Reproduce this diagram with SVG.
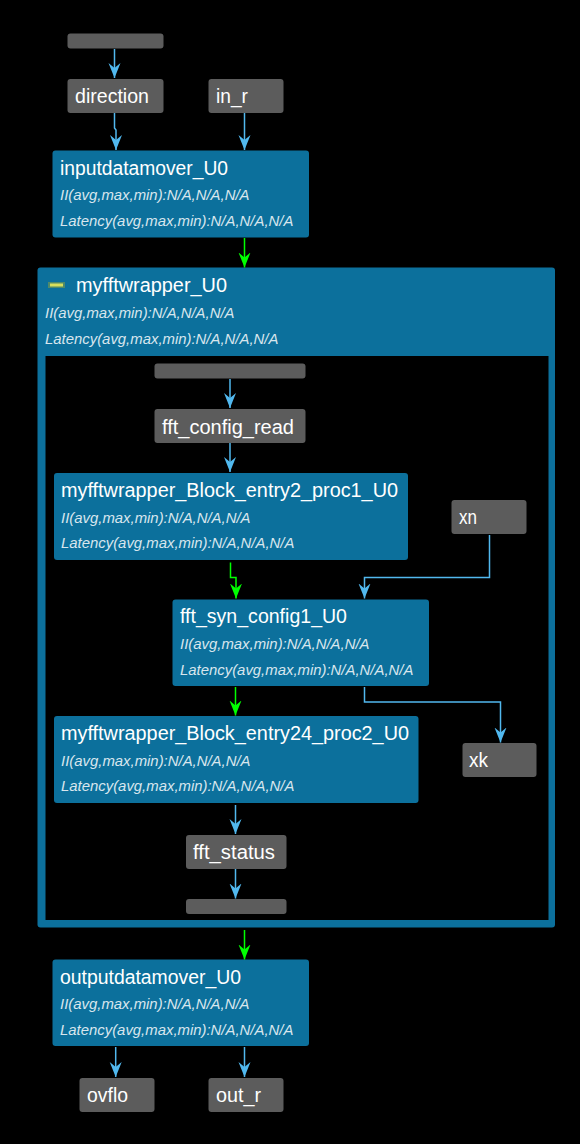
<svg xmlns="http://www.w3.org/2000/svg" width="580" height="1144" viewBox="0 0 580 1144">
<style>
text{font-family:"Liberation Sans",Arial,sans-serif;fill:#fff}
.t{font-size:19.5px}
.s{font-size:14.9px;font-style:italic;fill:#d8e6ee}
.g rect{fill:#5c5c5c;stroke:none}
.m>rect{fill:#0c709c;stroke:none}
.c path{fill:none;stroke-width:1.5}
.b{stroke:#51b8ee}
.l{stroke:#00ff00}
</style>
<defs>
<marker id="ab" markerUnits="userSpaceOnUse" markerWidth="16" markerHeight="14" refX="15" refY="7" orient="auto" viewBox="0 0 16 14"><path d="M15 7L0 1L5 7L0 13Z" style="fill:#51b8ee;stroke:none"/></marker>
<marker id="al" markerUnits="userSpaceOnUse" markerWidth="16" markerHeight="14" refX="15" refY="7" orient="auto" viewBox="0 0 16 14"><path d="M15 7L0 1L5 7L0 13Z" style="fill:#00ff00;stroke:none"/></marker>
</defs>
<rect width="580" height="1144" fill="#000"/>
<g id="n_top" class="g"><rect x="67.500" y="33.500" width="96" height="15" rx="3"/></g>
<g id="n_direction" class="g"><rect x="67.500" y="79" width="96" height="34" rx="3"/><text class="t" x="75" y="103" textLength="74" lengthAdjust="spacingAndGlyphs">direction</text></g>
<g id="n_in_r" class="g"><rect x="208.500" y="79" width="75" height="34" rx="3"/><text class="t" x="216" y="103" textLength="32" lengthAdjust="spacingAndGlyphs">in_r</text></g>
<g id="n_inputdatamover" class="m"><rect x="52.500" y="150.500" width="256.500" height="87" rx="3"/><text class="t" x="60" y="175" textLength="168" lengthAdjust="spacingAndGlyphs">inputdatamover_U0</text><text class="s" x="60" y="199.500">II(avg,max,min):N/A,N/A,N/A</text><text class="s" x="60" y="226">Latency(avg,max,min):N/A,N/A,N/A</text></g>
<g id="n_myfftwrapper" class="m"><rect x="37.500" y="267.500" width="517.500" height="660" rx="3"/><rect x="45.500" y="356" width="503" height="564" style="fill:#000;stroke:none"/><rect x="48" y="282" width="17" height="6" style="fill:#4f8a6a;stroke:none"/><rect x="50" y="283.500" width="13" height="3" style="fill:#d8e05c;stroke:none"/><text class="t" x="76" y="292" textLength="151" lengthAdjust="spacingAndGlyphs">myfftwrapper_U0</text><text class="s" x="45" y="317.500">II(avg,max,min):N/A,N/A,N/A</text><text class="s" x="45" y="343.500">Latency(avg,max,min):N/A,N/A,N/A</text></g>
<g id="n_inner_top" class="g"><rect x="154.500" y="363.500" width="151" height="15" rx="3"/></g>
<g id="n_fft_config_read" class="g"><rect x="154.500" y="409" width="151" height="34" rx="3"/><text class="t" x="162" y="434" textLength="132" lengthAdjust="spacingAndGlyphs">fft_config_read</text></g>
<g id="n_proc1" class="m"><rect x="54" y="473" width="354" height="87" rx="3"/><text class="t" x="61" y="497" textLength="337" lengthAdjust="spacingAndGlyphs">myfftwrapper_Block_entry2_proc1_U0</text><text class="s" x="61" y="523">II(avg,max,min):N/A,N/A,N/A</text><text class="s" x="61" y="548">Latency(avg,max,min):N/A,N/A,N/A</text></g>
<g id="n_xn" class="g"><rect x="451.500" y="500" width="75" height="34" rx="3"/><text class="t" x="459" y="524" textLength="18" lengthAdjust="spacingAndGlyphs">xn</text></g>
<g id="n_fft_syn_config1" class="m"><rect x="172.500" y="599.500" width="256.500" height="86.500" rx="3"/><text class="t" x="180" y="623" textLength="167" lengthAdjust="spacingAndGlyphs">fft_syn_config1_U0</text><text class="s" x="180" y="649">II(avg,max,min):N/A,N/A,N/A</text><text class="s" x="180" y="674.500">Latency(avg,max,min):N/A,N/A,N/A</text></g>
<g id="n_proc2" class="m"><rect x="54" y="716" width="364.500" height="87" rx="3"/><text class="t" x="61" y="740" textLength="348" lengthAdjust="spacingAndGlyphs">myfftwrapper_Block_entry24_proc2_U0</text><text class="s" x="61" y="766">II(avg,max,min):N/A,N/A,N/A</text><text class="s" x="61" y="791">Latency(avg,max,min):N/A,N/A,N/A</text></g>
<g id="n_xk" class="g"><rect x="462.500" y="743" width="74" height="34" rx="3"/><text class="t" x="469" y="767" textLength="19" lengthAdjust="spacingAndGlyphs">xk</text></g>
<g id="n_fft_status" class="g"><rect x="186" y="835" width="100.500" height="34" rx="3"/><text class="t" x="193" y="859" textLength="82" lengthAdjust="spacingAndGlyphs">fft_status</text></g>
<g id="n_inner_bottom" class="g"><rect x="186" y="899" width="100.500" height="15" rx="3"/></g>
<g id="n_outputdatamover" class="m"><rect x="52.500" y="959.500" width="256.500" height="86.500" rx="3"/><text class="t" x="60" y="984" textLength="181" lengthAdjust="spacingAndGlyphs">outputdatamover_U0</text><text class="s" x="60" y="1009">II(avg,max,min):N/A,N/A,N/A</text><text class="s" x="60" y="1035">Latency(avg,max,min):N/A,N/A,N/A</text></g>
<g id="n_ovflo" class="g"><rect x="79.500" y="1078" width="75" height="34" rx="3"/><text class="t" x="87" y="1102" textLength="41" lengthAdjust="spacingAndGlyphs">ovflo</text></g>
<g id="n_out_r" class="g"><rect x="208.500" y="1078" width="75" height="34" rx="3"/><text class="t" x="216" y="1102" textLength="45" lengthAdjust="spacingAndGlyphs">out_r</text></g>
<g id="connectors" class="c">
<path class="b" marker-end="url(#ab)" d="M114.500 49V78"/>
<path class="b" marker-end="url(#ab)" d="M114.500 113V128L116 130V150"/>
<path class="b" marker-end="url(#ab)" d="M244.500 113V150"/>
<path class="l" marker-end="url(#al)" d="M244.500 238V267.500"/>
<path class="b" marker-end="url(#ab)" d="M230 379V408"/>
<path class="b" marker-end="url(#ab)" d="M230 443V472"/>
<path class="l" marker-end="url(#al)" d="M230.500 562.500V577.500H236V598.500"/>
<path class="b" marker-end="url(#ab)" d="M489.500 535V577.500H364.500V598.500"/>
<path class="l" marker-end="url(#al)" d="M235.500 687V715.500"/>
<path class="b" marker-end="url(#ab)" d="M364.500 687V702H500.500V742.500"/>
<path class="b" marker-end="url(#ab)" d="M235.500 805V834"/>
<path class="b" marker-end="url(#ab)" d="M235.500 869V898.500"/>
<path class="l" marker-end="url(#al)" d="M244.500 930V959.500"/>
<path class="b" marker-end="url(#ab)" d="M115.700 1047V1077"/>
<path class="b" marker-end="url(#ab)" d="M244.500 1047V1077"/>
</g>
</svg>
